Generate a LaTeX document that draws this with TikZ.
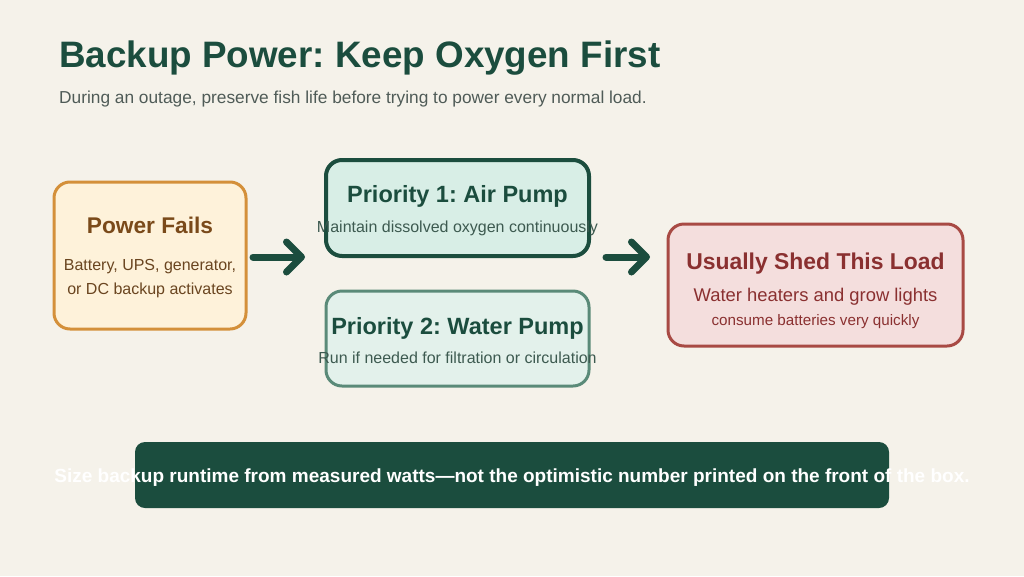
\documentclass[tikz,border=0pt]{standalone}
\usepackage{fontspec}
\setmainfont{Liberation Sans}
\usetikzlibrary{arrows.meta}
\definecolor{bg}{HTML}{F5F2EA}
\definecolor{dgreen}{HTML}{1B4D3E}
\definecolor{subgray}{HTML}{4F5B57}
\definecolor{orbord}{HTML}{D4903A}
\definecolor{orfill}{HTML}{FEF2DA}
\definecolor{brown}{HTML}{7A4A1A}
\definecolor{brtext}{HTML}{6A4520}
\definecolor{gfill}{HTML}{D8EEE6}
\definecolor{g2bord}{HTML}{5A8A78}
\definecolor{g2fill}{HTML}{E3F1EB}
\definecolor{gtext}{HTML}{3D5A50}
\definecolor{rbord}{HTML}{A84A44}
\definecolor{rfill}{HTML}{F4DEDD}
\definecolor{rtext}{HTML}{8A3030}
\tikzset{
  arr/.style={draw=dgreen, line width=7pt, line cap=round, -{Straight Barb[length=15pt, width=30pt, line cap=round, line join=round]}},
}
\frenchspacing
\begin{document}
\begin{tikzpicture}[x=1pt,y=-1pt]
\fill[bg] (0,0) rectangle (1024,576);
\useasboundingbox (0,0) rectangle (1024,576);
% title
\node[anchor=base west, inner sep=0, text=dgreen, font=\bfseries\fontsize{36.8}{42}\selectfont] (title) at (59,67) {Backup Power: Keep Oxygen First};
\node[anchor=base west, inner sep=0, text=subgray, font=\fontsize{17.3}{20}\selectfont] (sub) at (59,103) {During an outage, preserve fish life before trying to power every normal load.};
% boxes
\draw[draw=orbord, fill=orfill, line width=3pt, rounded corners=16pt] (54,182) rectangle (246,329);
\node[anchor=base, text=brown, font=\bfseries\fontsize{22.7}{26}\selectfont] (pft) at (150,233) {Power Fails};
\node[anchor=base, text=brtext, font=\fontsize{16}{19}\selectfont] (pfb1) at (150,270) {Battery, UPS, generator,};
\node[anchor=base, text=brtext, font=\fontsize{16}{19}\selectfont] (pfb2) at (150,294) {or DC backup activates};

\draw[draw=dgreen, fill=gfill, line width=4pt, rounded corners=16pt] (326,160) rectangle (589,256);
\node[anchor=base, text=dgreen, font=\bfseries\fontsize{23.5}{27}\selectfont] (p1t) at (457.5,202) {Priority 1: Air Pump};
\node[anchor=base, text=gtext, font=\fontsize{16}{19}\selectfont] (p1b) at (457.5,232) {Maintain dissolved oxygen continuously};

\draw[draw=g2bord, fill=g2fill, line width=3pt, rounded corners=16pt] (326,291) rectangle (589,386);
\node[anchor=base, text=dgreen, font=\bfseries\fontsize{23.5}{27}\selectfont] (p2t) at (457.5,334) {Priority 2: Water Pump};
\node[anchor=base, text=gtext, font=\fontsize{16}{19}\selectfont] (p2b) at (457.5,363) {Run if needed for filtration or circulation};

\draw[draw=rbord, fill=rfill, line width=3pt, rounded corners=16pt] (668,224) rectangle (963,346);
\node[anchor=base, text=rtext, font=\bfseries\fontsize{22.9}{27}\selectfont] (sht) at (815.5,269) {Usually Shed This Load};
\node[anchor=base, text=rtext, font=\fontsize{18.4}{21}\selectfont] (shb1) at (815.5,301) {Water heaters and grow lights};
\node[anchor=base, text=rtext, font=\fontsize{15.2}{18}\selectfont] (shb2) at (815.5,325) {consume batteries very quickly};

% arrows
\coordinate (a1s) at (253,257);
\coordinate (a1e) at (305,257);
\coordinate (a2s) at (606,257);
\coordinate (a2e) at (650,257);
\draw[arr] (a1s) -- (a1e);
\draw[arr] (a2s) -- (a2e);

% bottom bar
\fill[dgreen, rounded corners=10pt] (135,442) rectangle (889,508);
\node[anchor=base, text=white, font=\bfseries\fontsize{19}{22}\selectfont] (bar) at (512,482) {Size backup runtime from measured watts—not the optimistic number printed on the front of the box.};
\end{tikzpicture}
\end{document}
